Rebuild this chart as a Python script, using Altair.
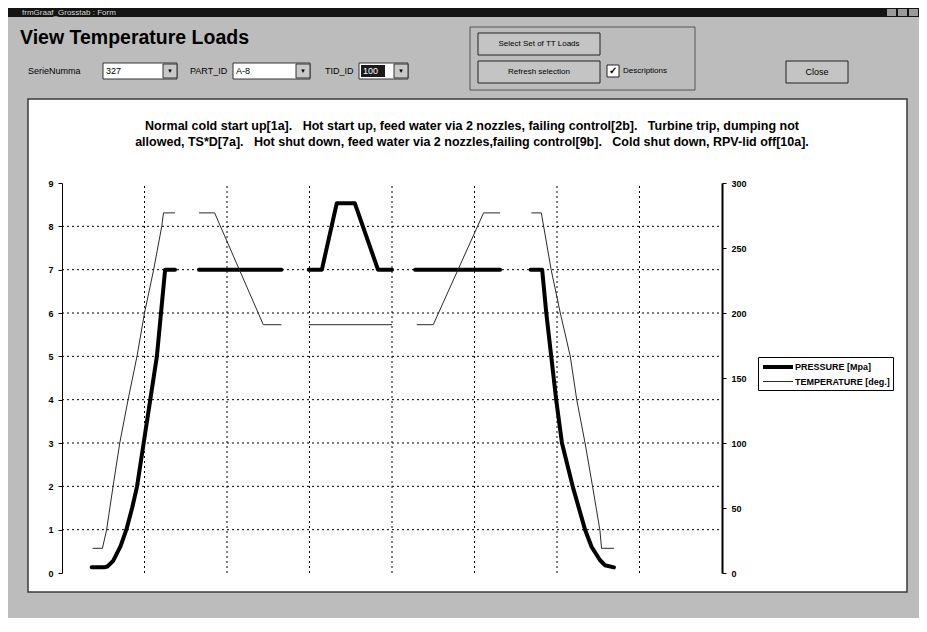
import altair as alt
import pandas as pd

# ---------------- data ----------------
series = ["PRESSURE [Mpa]", "TEMPERATURE [deg.]"]

p_case = (["1a"] * 15 + ["2b"] * 2 + ["7a"] * 6 + ["9b"] * 2 + ["10a"] * 12)
p_x = [0.36, 0.51, 0.55, 0.62, 0.71, 0.78, 0.85, 0.91, 0.99, 1.07, 1.15, 1.20, 1.25, 1.37, 1.37,
       1.66, 2.66,
       2.99, 3.15, 3.33, 3.55, 3.83, 4.00,
       4.28, 5.31,
       5.68, 5.82, 5.87, 5.93, 5.99, 6.06, 6.19, 6.34, 6.42, 6.52, 6.58, 6.69]
p_y = [0.13, 0.13, 0.15, 0.28, 0.62, 1.0, 1.5, 2.0, 3.0, 4.0, 5.0, 6.0, 7.0, 7.0, 7.0,
       7.0, 7.0,
       7.0, 7.0, 8.53, 8.53, 7.0, 7.0,
       7.0, 7.0,
       7.0, 7.0, 6.0, 5.0, 4.0, 3.0, 2.0, 1.0, 0.6, 0.3, 0.18, 0.13]

t_case = (["1a"] * 12 + ["2b"] * 4 + ["7a"] * 2 + ["9b"] * 4 + ["10a"] * 11)
t_x = [0.37, 0.49, 0.54, 0.62, 0.70, 0.80, 0.91, 1.00, 1.11, 1.21, 1.23, 1.37,
       1.66, 1.85, 2.44, 2.66,
       2.99, 4.00,
       4.30, 4.50, 5.11, 5.31,
       5.69, 5.81, 5.93, 6.04, 6.16, 6.24, 6.34, 6.43, 6.52, 6.54, 6.69]
t_y = [19, 19, 33, 67, 100, 133, 167, 200, 233, 267, 277, 277,
       277, 277, 191, 191,
       191, 191,
       191, 191, 277, 277,
       277, 277, 233, 200, 167, 133, 100, 67, 33, 19, 19]

grid_x = [1, 2, 3, 4, 5, 6, 7]
grid_y = [1, 2, 3, 4, 5, 6, 7, 8]
press_ticks = [0, 1, 2, 3, 4, 5, 6, 7, 8, 9]
temp_ticks = [0, 50, 100, 150, 200, 250, 300]

NB = "\u00a0"
title_lines = [
    "Normal cold start up[1a]." + NB * 3 + "Hot start up, feed water via 2 nozzles, failing control[2b]."
    + NB * 3 + "Turbine trip, dumping not",
    "allowed, TS*D[7a]." + NB * 3 + "Hot shut down, feed water via 2 nozzles,failing control[9b]."
    + NB * 3 + "Cold shut down, RPV-lid off[10a].",
]

# ---------------- tables ----------------
pdf = pd.DataFrame({"case": p_case, "x": p_x, "value": p_y})
pdf["series"] = series[0]
tdf = pd.DataFrame({"case": t_case, "x": t_x, "value": t_y})
tdf["series"] = series[1]
gx = pd.DataFrame({"gx": grid_x})
gy = pd.DataFrame({"gy": grid_y})
one = pd.DataFrame({"k": [0]})

FONT = "Liberation Sans"
UI = "Liberation Sans"

x_scale = alt.Scale(domain=[0, 8], nice=False, zero=False)
p_scale = alt.Scale(domain=[0, 9], nice=False)
t_scale = alt.Scale(domain=[0, 300], nice=False)
color_scale = alt.Scale(domain=series, range=["#000000", "#2a2a2a"])
width_scale = alt.Scale(domain=series, range=[4, 1])

legend = alt.Legend(
    title=None, orient="none", legendX=696, legendY=174,
    strokeColor="black", fillColor="white", padding=3,
    symbolType="M-3,0H3", symbolSize=100, symbolOffset=10,
    labelFont=FONT, labelFontSize=9,
    labelFontWeight="bold", labelColor="black", rowPadding=1, labelOffset=10,
)

axis_common = dict(
    title=None, grid=False, labelFont=FONT, labelFontSize=9, labelFontWeight="bold",
    labelColor="black", domainColor="black", tickColor="black", tickSize=4, labelPadding=5,
    zindex=2,
)

# ---------------- decorations (form chrome) ----------------
def box(x1, x2, y1, y2, fill, stroke=None, sw=1.0):
    kw = dict(fill=fill)
    if stroke:
        kw.update(stroke=stroke, strokeWidth=sw)
    return alt.Chart(one).mark_rect(**kw).encode(
        x=alt.value(x1), x2=alt.value(x2), y=alt.value(y1), y2=alt.value(y2))


def label(txt, x, y, size=9, weight="normal", color="black", align="left", font=UI):
    return alt.Chart(one).mark_text(
        text=txt, align=align, baseline="middle", fontSize=size, fontWeight=weight,
        color=color, font=font).encode(x=alt.value(x), y=alt.value(y))


decor = [
    box(-34, 845, -84, 409, "white", "#3a3a3a", 1.5),
    box(-54, 857, -175, -166, "#141414"),
    label("frmGraaf_Grosstab : Form", -40, -170.5, 8, color="#d8d8d8"),
    box(825, 834, -174, -167, "#9a9a9a"),
    box(836, 845, -174, -167, "#9a9a9a"),
    box(847, 856, -174, -167, "#9a9a9a"),
    label("View Temperature Loads", -42, -145, 19.5, "bold"),
    label("SerieNumma", -34, -112, 9),
    box(41, 115, -120, -104, "white", "#333333"),
    label("327", 44, -112, 9),
    box(101, 115, -119, -105, "#c8c8c8", "#333333"),
    label("\u25bc", 108, -112, 6, align="center"),
    label("PART_ID", 128, -112, 9),
    box(171, 248, -120, -104, "white", "#333333"),
    label("A-8", 174, -112, 9),
    box(234, 248, -119, -105, "#c8c8c8", "#333333"),
    label("\u25bc", 241, -112, 6, align="center"),
    label("TID_ID", 263, -112, 9),
    box(297, 346, -120, -104, "white", "#333333"),
    box(299, 323, -118, -106, "#1a1a1a"),
    label("100", 301, -112, 9, color="white"),
    box(332, 346, -119, -105, "#c8c8c8", "#333333"),
    label("\u25bc", 339, -112, 6, align="center"),
    box(408, 633, -156, -93, "transparent", "#555555"),
    box(416, 538, -150, -128, "#c4c4c4", "#222222"),
    label("Select Set of TT Loads", 477, -139, 8, align="center"),
    box(416, 538, -122, -100, "#c4c4c4", "#222222"),
    label("Refresh selection", 477, -111, 8, align="center"),
    box(545, 557, -118, -106, "white", "#222222"),
    label("\u2713", 551, -112, 10, "bold", align="center"),
    label("Descriptions", 561, -112, 8),
    box(724, 786, -122, -100, "#c4c4c4", "#222222"),
    label("Close", 755, -111, 9, align="center"),
    label(title_lines[0], 410, -57, 12.5, "bold", align="center", font=FONT),
    label(title_lines[1], 410, -41, 12.5, "bold", align="center", font=FONT),
]

# ---------------- chart layers ----------------
grid_v = alt.Chart(gx).mark_rule(color="black", strokeDash=[2, 3], strokeWidth=1).encode(
    x=alt.X("gx:Q", scale=x_scale, axis=None),
    y=alt.YDatum(0, scale=p_scale, axis=None),
    y2=alt.Y2Datum(9),
)
grid_h = alt.Chart(gy).mark_rule(color="black", strokeDash=[2, 3], strokeWidth=1).encode(
    y=alt.Y("gy:Q", scale=p_scale, axis=None),
    x=alt.XDatum(0, scale=x_scale, axis=None),
    x2=alt.X2Datum(8),
)

pressure = alt.Chart(pdf).mark_line(strokeJoin="round", strokeCap="round").encode(
    x=alt.X("x:Q", scale=x_scale, axis=None),
    y=alt.Y("value:Q", scale=p_scale,
            axis=alt.Axis(orient="left", values=press_ticks, domainWidth=1, **axis_common)),
    detail="case:N",
    color=alt.Color("series:N", scale=color_scale, legend=legend),
    strokeWidth=alt.StrokeWidth("series:N", scale=width_scale, legend=legend),
)

temperature = alt.Chart(tdf).mark_line(strokeJoin="round").encode(
    x=alt.X("x:Q", scale=x_scale, axis=None),
    y=alt.Y("value:Q", scale=t_scale,
            axis=alt.Axis(orient="right", values=temp_ticks, domainWidth=2, **axis_common)),
    detail="case:N",
    color=alt.Color("series:N", scale=color_scale, legend=legend),
    strokeWidth=alt.StrokeWidth("series:N", scale=width_scale, legend=legend),
)

chart = alt.layer(*decor, grid_v, grid_h, pressure, temperature).resolve_scale(
    y="independent"
).properties(
    width=660, height=390,
    autosize=alt.AutoSizeParams(type="none"),
    padding={"left": 54, "top": 175, "right": 197, "bottom": 45},
).configure_view(stroke=None).configure(background="#bcbcbc")

chart.save("out.html", embed_options={"renderer": "svg", "actions": False})
